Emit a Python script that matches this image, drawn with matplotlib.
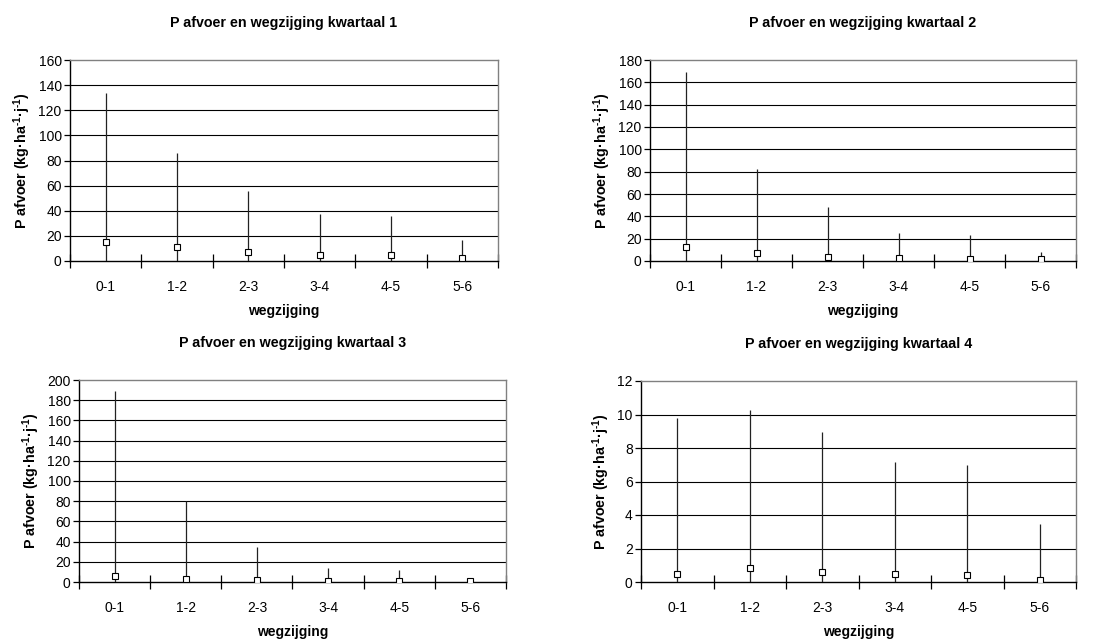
import matplotlib
matplotlib.use("Agg")
import matplotlib.pyplot as plt
import numpy as np

plt.rcParams['font.family'] = ['Liberation Sans', 'DejaVu Sans']
plt.rcParams['mathtext.fontset'] = 'custom'
plt.rcParams['mathtext.bf'] = 'Liberation Sans:bold'
plt.rcParams['mathtext.rm'] = 'Liberation Sans'
plt.rcParams['mathtext.default'] = 'bf'

categories = ["0-1", "1-2", "2-3", "3-4", "4-5", "5-6"]

titles = [
    "P afvoer en wegzijging kwartaal 1",
    "P afvoer en wegzijging kwartaal 2",
    "P afvoer en wegzijging kwartaal 3",
    "P afvoer en wegzijging kwartaal 4",
]

# central value (square) and range (vertical line) per class
q1_mid = [15.1, 10.9, 6.9, 5.0, 4.5, 2.4]
q1_max = [133.7, 86.0, 55.4, 37.7, 35.5, 16.7]
q1_min = [0, 0, 0, 0, 0, 0]

q2_mid = [12.2, 6.9, 3.6, 2.7, 2.1, 1.5]
q2_max = [169.0, 82.7, 48.4, 25.0, 23.3, 7.8]
q2_min = [0, 0, 0, 0, 0, 0]

q3_mid = [5.6, 3.0, 2.0, 1.3, 1.3, 0.7]
q3_max = [189.0, 79.8, 35.1, 13.6, 12.3, 1.0]
q3_min = [0, 0, 0, 0, 0, 0]

q4_mid = [0.50, 0.83, 0.62, 0.48, 0.40, 0.12]
q4_max = [9.8, 10.27, 8.94, 7.17, 6.97, 3.44]
q4_min = [0, 0, 0, 0, 0, 0]

y_max = [160, 180, 200, 12]
y_step = [20, 20, 20, 2]

series = [
    (q1_min, q1_mid, q1_max),
    (q2_min, q2_mid, q2_max),
    (q3_min, q3_mid, q3_max),
    (q4_min, q4_mid, q4_max),
]

W, H = 1108, 642
fig = plt.figure(figsize=(W / 100, H / 100), dpi=100)

# axes boxes in pixels: left, right, top, bottom
boxes = [
    (70, 498, 60, 261),
    (650, 1076, 60, 261),
    (79, 506, 380, 582),
    (641, 1076, 381, 582),
]

ylabel = "P afvoer (kg·ha$^{‐1}$·j$^{‐1}$)"

for i, (l, r, t, b) in enumerate(boxes):
    ax = fig.add_axes([l / W, 1 - b / H, (r - l) / W, (b - t) / H])
    lo, mid, hi = series[i]
    x = np.arange(len(categories))
    ax.vlines(x, lo, hi, colors="#222222", linewidth=0.9, zorder=3)
    ax.plot(x, mid, linestyle="none", marker="s", markersize=5,
            markerfacecolor="white", markeredgecolor="black",
            markeredgewidth=0.8, zorder=4)

    ax.set_xlim(-0.5, len(categories) - 0.5)
    ax.set_ylim(0, y_max[i])
    yt = np.arange(0, y_max[i] + y_step[i] / 2, y_step[i])
    ax.set_yticks(yt)
    ax.set_yticklabels([f"{int(v)}" for v in yt], fontsize=10)
    for v in yt[1:-1]:
        ax.axhline(v, color="black", linewidth=0.8, zorder=1)

    ax.set_xticks(x)
    ax.set_xticklabels(categories, fontsize=10)
    ax.set_xticks(np.arange(-0.5, len(categories)), minor=True)
    ax.tick_params(axis="x", which="major", length=0, pad=14)
    ax.tick_params(axis="x", which="minor", direction="inout", length=10,
                   width=0.9, color="black")
    ax.tick_params(axis="y", direction="out", length=4, width=0.9, pad=2)

    for s in ("left", "bottom"):
        ax.spines[s].set_color("black")
        ax.spines[s].set_linewidth(1.0)
    for s in ("top", "right"):
        ax.spines[s].set_color("#808080")
        ax.spines[s].set_linewidth(1.0)

    ax.set_title(titles[i], fontsize=10.3, fontweight="bold", pad=24)
    ax.set_xlabel("wegzijging", fontsize=10, fontweight="bold", labelpad=7)
    ax.set_ylabel(ylabel, fontsize=10.3, fontweight="bold", labelpad=4)

fig.savefig("out.png", dpi=100, facecolor="white")
